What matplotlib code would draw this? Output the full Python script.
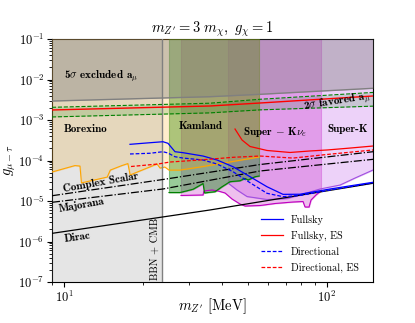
import numpy as np
import matplotlib
matplotlib.use("Agg")
import matplotlib.pyplot as plt
from matplotlib.ticker import NullFormatter

plt.rcParams.update({
    "font.family": "serif",
    "font.serif": ["cmr10"],
    "mathtext.fontset": "cm",
    "axes.formatter.use_mathtext": True,
})

# ---------------- data ----------------
# 5 sigma excluded a_mu boundary
ex5_m = [9.0, 21.2, 35.9, 55.7, 150.0]
ex5_g = [2.94e-3, 3.43e-3, 3.76e-3, 4.31e-3, 6.07e-3]

# 2 sigma favoured a_mu band
fav_m = [9.0, 35.9, 55.7, 150.0]
fav_c = [1.77e-3, 2.22e-3, 2.63e-3, 3.92e-3]
fav_up = [2.06e-3, 2.60e-3, 3.25e-3, 4.80e-3]
fav_lo = [1.19e-3, 1.50e-3, 1.78e-3, 2.20e-3]

# Borexino lower boundary
bx_m = [9.0, 11.0, 11.5, 11.65, 14.6, 15.0, 16.6, 17.5, 17.85, 22.6, 23.2,
        24.2, 25.1, 27.6, 32.9, 42.8, 55.2]
bx_g = [5.2e-5, 7.5e-5, 7.3e-5, 2.8e-5, 3.9e-5, 5.8e-5, 7.5e-5, 8.4e-5,
        4.4e-5, 8.2e-5, 6.5e-5, 6.9e-5, 5.8e-5, 5.8e-5, 6.9e-5, 9.2e-5, 1.22e-4]

# Kamland lower boundary
km_m = [25.09, 27.63, 30.97, 33.81, 34.26, 37.56, 39.93, 42.83, 46.76,
        48.86, 50.16, 53.33, 55.24]
km_g = [1.62e-5, 1.62e-5, 1.95e-5, 2.70e-5, 1.58e-5, 1.70e-5, 2.25e-5,
        3.00e-5, 3.17e-5, 3.63e-5, 3.30e-5, 3.98e-5, 4.14e-5]

# Super-K nu_e lower boundary
ske_m = [27.87, 33.81, 34.10, 36.59, 38.57, 41.00, 43.60, 46.76, 48.86,
         55.73, 63.57, 74.41, 81.22, 82.66, 85.62, 87.13, 91.0, 95.1]
ske_g = [1.37e-5, 1.41e-5, 1.77e-5, 1.87e-5, 1.77e-5, 1.58e-5, 1.12e-5,
         8.43e-6, 7.52e-6, 7.74e-6, 8.68e-6, 9.45e-6, 9.72e-6, 7.11e-6,
         7.11e-6, 1.06e-5, 1.41e-5, 1.77e-5]

# Super-K lower boundary
sk_m = [42.09, 45.55, 49.72, 59.25, 70.61, 86.36, 94.3, 112.4, 128.2, 150.0]
sk_g = [2.78e-5, 1.87e-5, 1.29e-5, 1.09e-5, 1.15e-5, 1.67e-5, 1.98e-5,
        2.48e-5, 3.70e-5, 5.83e-5]

# BBN + CMB bound
bbn_m = 23.6

# relic lines
dirac_m = [9.0, 35.9, 150.0]
dirac_g = [1.59e-6, 6.0e-6, 2.74e-5]
maj_m = [9.0, 23.8, 55.7, 150.0]
maj_g = [9.29e-6, 1.98e-5, 5.51e-5, 1.07e-4]
cs_m = [9.0, 23.8, 55.7, 150.0]
cs_g = [1.35e-5, 3.40e-5, 7.96e-5, 1.65e-4]

# sensitivity curves
fs_m = [17.83, 21.25, 23.81, 24.87, 26.45, 28.37, 33.81, 38.23, 43.98,
        51.05, 59.25, 68.17, 79.11, 102.9, 150.0]
fs_g = [2.51e-4, 2.75e-4, 2.91e-4, 2.66e-4, 1.65e-4, 1.56e-4, 1.29e-4,
        1.03e-4, 7.03e-5, 3.98e-5, 2.25e-5, 1.46e-5, 1.47e-5, 1.98e-5, 2.90e-5]
dir_m = fs_m
dir_g = [1.45e-4, 1.51e-4, 1.65e-4, 1.53e-4, 1.24e-4, 1.15e-4, 1.03e-4,
         8.20e-5, 5.29e-5, 2.83e-5, 1.55e-5, 1.28e-5, 1.37e-5, 1.87e-5, 2.81e-5]
fses_m = [44.76, 47.59, 51.05, 59.25, 72.49, 86.36, 100.3, 122.7, 150.0]
fses_g = [5.99e-4, 3.21e-4, 2.22e-4, 1.77e-4, 1.58e-4, 1.72e-4, 1.82e-4,
          2.03e-4, 2.28e-4]
dires_m = [17.99, 22.79, 25.32, 32.94, 43.98, 55.73, 74.41, 100.3, 150.0]
dires_g = [7.11e-5, 8.20e-5, 9.18e-5, 1.03e-4, 1.20e-4, 1.29e-4, 1.15e-4,
           1.41e-4, 1.82e-4]

legend_labels = ["Fullsky", "Fullsky, ES", "Directional", "Directional, ES"]

# ---------------- figure ----------------
fig = plt.figure(figsize=(4.15, 3.23), dpi=100)
ax = fig.add_axes([0.1253, 0.1269, 0.7735, 0.7523])
ax.set_xscale("log")
ax.set_yscale("log")
ax.set_xlim(9, 150)
ax.set_ylim(1e-7, 1e-1)
ax.xaxis.set_minor_formatter(NullFormatter())
ax.yaxis.set_minor_formatter(NullFormatter())
top = 1e-1

c_sk = (0.72, 0.30, 0.92)
c_ske = (0.75, 0.0, 0.75)
c_km = (0.0, 0.5, 0.0)
c_bx = (1.0, 0.65, 0.0)

ax.fill_between(sk_m, sk_g, top, color=c_sk, alpha=0.25, lw=0.8, zorder=1)
ax.fill_between(ske_m, ske_g, top, color=c_ske, alpha=0.25, lw=0.8, zorder=2)
ax.fill_between(km_m, km_g, top, color=c_km, alpha=0.4, lw=0.8, zorder=3)
ax.fill_between(bx_m, bx_g, top, color=c_bx, alpha=0.2, lw=0.8, zorder=4)
ax.fill_between([9, bbn_m], 1e-7, top, color="gray", alpha=0.2, lw=0, zorder=5)
ax.fill_between(fav_m, fav_lo, fav_up, color="g", alpha=0.15, lw=0, zorder=6)
ax.fill_between(ex5_m, ex5_g, top, color="gray", alpha=0.4, lw=0, zorder=6)

ax.plot(sk_m, sk_g, color="#a050e0", lw=0.8, zorder=7)
ax.plot(ske_m, ske_g, color="m", lw=0.8, zorder=7)
ax.plot(km_m, km_g, color="g", lw=0.8, zorder=7)
ax.plot(bx_m, bx_g, color="orange", lw=0.8, zorder=7)
ax.axvline(bbn_m, color="gray", lw=1.0, zorder=7)
ax.plot(ex5_m, ex5_g, color="gray", lw=1.0, zorder=7)
ax.plot(fav_m, fav_up, color="g", ls="--", lw=0.8, zorder=7)
ax.plot(fav_m, fav_lo, color="g", ls="--", lw=0.8, zorder=7)
ax.plot(fav_m, fav_c, color="r", lw=1.0, zorder=7)

ax.plot(dirac_m, dirac_g, color="k", lw=0.9, zorder=8)
ax.plot(maj_m, maj_g, color="k", ls="-.", lw=0.9, zorder=8)
ax.plot(cs_m, cs_g, color="k", ls="-.", lw=0.9, zorder=8)

l1, = ax.plot(fs_m, fs_g, color="blue", lw=0.9, zorder=9)
l2, = ax.plot(fses_m, fses_g, color="red", lw=0.9, zorder=9)
l3, = ax.plot(dir_m, dir_g, color="blue", ls="--", lw=0.9, dashes=(3, 1.5), zorder=9)
l4, = ax.plot(dires_m, dires_g, color="red", ls="--", lw=0.9, dashes=(3, 1.5), zorder=9)

leg = ax.legend([l1, l2, l3, l4], legend_labels, loc="lower right",
                bbox_to_anchor=(0.985, 0.0), frameon=False, fontsize=7.3,
                handlelength=2.2, labelspacing=0.6, handletextpad=0.8)
leg.set_zorder(10)

bold = dict(family="cmb10", fontsize=8, zorder=11)
ax.text(10.0, 1.15e-2, r"5$\sigma$ excluded a$_\mu$", va="center", ha="left", **bold)
ax.text(10.0, 6.0e-4, "Borexino", va="center", ha="left", **bold)
ax.text(27.2, 7.3e-4, "Kamland", va="center", ha="left", **bold)
ax.text(48.0, 5.1e-4, r"Super $-$ K$\nu_e$", va="center", ha="left", **bold)
ax.text(100.3, 5.9e-4, "Super-K", va="center", ha="left", **bold)
ax.text(109.4, 2.70e-3, r"2$\sigma$ favored a$_\mu$", va="center", ha="center",
        rotation=9, **bold)
ax.text(13.8, 2.94e-5, "Complex Scalar", va="center", ha="center", rotation=10, **bold)
ax.text(11.67, 8.1e-6, "Majorana", va="center", ha="center", rotation=10, **bold)
ax.text(11.23, 1.31e-6, "Dirac", va="center", ha="center", rotation=8, **bold)
ax.text(22.2, 1.12e-7, "BBN + CMB", va="bottom", ha="center", rotation=90,
        fontsize=7.5, zorder=11)

ax.set_title(r"$m_{Z'} = 3\ m_\chi,\ g_\chi = 1$", fontsize=10.5, pad=3)
ax.set_xlabel(r"$m_{Z'}$ [MeV]", fontsize=10.5)
ax.set_ylabel(r"$g_{\mu-\tau}$", fontsize=10.5)
ax.xaxis.set_label_coords(0.5, -0.06)
ax.yaxis.set_label_coords(-0.105, 0.5)
ax.tick_params(labelsize=9, pad=2)

fig.savefig("out.png", dpi=100)
